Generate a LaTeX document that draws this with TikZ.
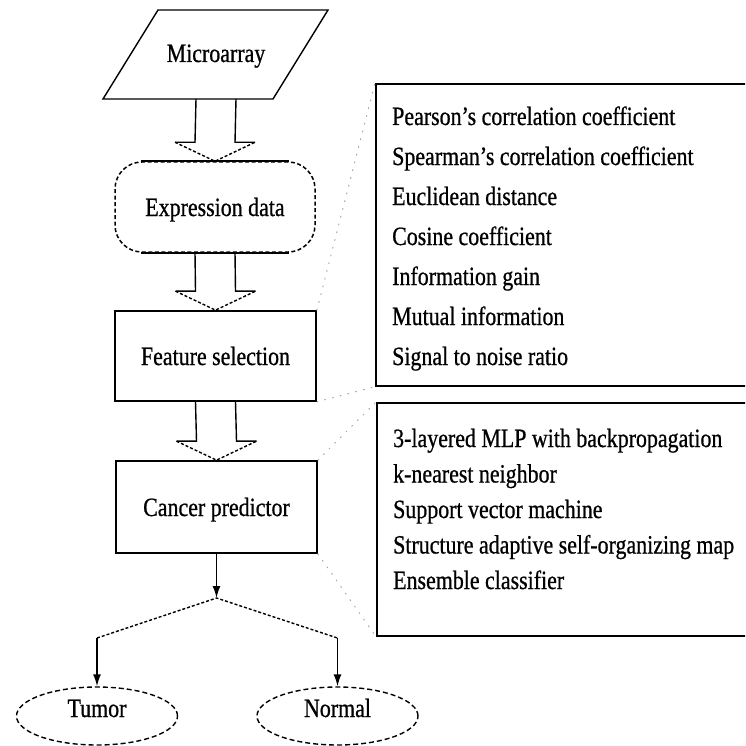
\documentclass[tikz,border=0pt]{standalone}
\usepackage{fontspec}
\setmainfont{Liberation Serif}[FakeStretch=0.83,FakeBold=0.7]
\usetikzlibrary{calc,arrows.meta,shapes.geometric}

\begin{document}
\begin{tikzpicture}[x=1pt,y=-1pt,
  every node/.style={font=\fontsize{26.4}{30}\selectfont},
  lbl/.style={inner sep=0pt, text height=20pt, text depth=2pt},
  box/.style={lbl, draw, line width=1.7pt, rectangle},
  roundbox/.style={lbl, draw, line width=1.5pt, rectangle, rounded corners=27pt,
    dash pattern=on 4pt off 2.5pt},
  leaf/.style={draw, ellipse, line width=1.4pt, inner sep=0pt,
    minimum width=161pt, minimum height=58pt, text height=20pt, text depth=18pt,
    dash pattern=on 5pt off 3pt},
  listbox/.style={draw, line width=1.7pt, rectangle, inner sep=0pt},
  item/.style={anchor=base west, inner sep=0pt},
  shaft/.style={line width=1.4pt},
  headdash/.style={line width=1.4pt, dash pattern=on 3pt off 2pt},
  flow/.style={line width=1.4pt, -{Latex[length=12pt,width=8pt]}},
  branch/.style={line width=1.4pt, dash pattern=on 3pt off 2pt},
  dotline/.style={gray!70, line width=1pt, dash pattern=on 1pt off 7pt, line cap=round}
]
\useasboundingbox (0,0) rectangle (745,746);
\clip (0,0) rectangle (745,746);
\fill[white] (0,0) rectangle (745,746);

% input parallelogram
\coordinate (mtl) at (158,10);
\coordinate (mtr) at (328,10);
\coordinate (mbr) at (273,99);
\coordinate (mbl) at (103,99);
\draw[line width=1.4pt, line join=miter] (mtl) -- (mtr) -- (mbr) -- (mbl) -- cycle;
\node[lbl] (micro) at (216,53) {Microarray};
\coordinate (mbot) at (micro.center |- mbl);

% main flow
\node[roundbox, minimum width=200pt, minimum height=90pt] (expr) at (215,207) {Expression data};
\draw[line width=1.7pt] ($(expr.north west)+(27,0)$) -- ($(expr.north east)+(-27,0)$);
\draw[line width=1.7pt] ($(expr.south west)+(27,0)$) -- ($(expr.south east)+(-27,0)$);
\node[box, minimum width=201pt, minimum height=90pt] (fs) at (215.5,356) {Feature selection};
\node[box, minimum width=201pt, minimum height=92pt] (cp) at (216.5,507) {Cancer predictor};

% hollow block arrows: solid shaft, dashed head
\foreach \a/\b in {mbot/expr.north, expr.south/fs.north, fs.south/cp.north} {
  \draw[shaft] ($(\a)+(-20,0)$) -- ($(\b)+(-20,-19)$) -- ($(\b)+(-40,-19)$);
  \draw[shaft] ($(\a)+(20,0)$) -- ($(\b)+(20,-19)$) -- ($(\b)+(40,-19)$);
  \draw[headdash] ($(\b)+(-40,-19)$) -- (\b) -- ($(\b)+(40,-19)$);
}

% outcome branch
\coordinate (split) at (216.5,598);
\coordinate (lt) at (97,638);
\coordinate (rt) at (337.5,638);
\node[leaf] (tumor) at (97,716) {Tumor};
\node[leaf] (normal) at (337.5,716) {Normal};
\draw[flow] (cp.south) -- (split);
\draw[branch] (lt) -- (split) -- (rt);
\draw[flow] (lt) -- (tumor.north);
\draw[flow] (rt) -- (normal.north);

% method lists
\node[listbox, anchor=north west, minimum width=420pt, minimum height=302pt] (fsbox) at (375,83) {};
\node[listbox, anchor=north west, minimum width=420pt, minimum height=233pt] (cpbox) at (376,402) {};
\foreach \t [count=\i] in {Pearson's correlation coefficient,
    Spearman's correlation coefficient, Euclidean distance, Cosine coefficient,
    Information gain, Mutual information, Signal to noise ratio}
  \node[item] (fsm\i) at (392,85+40*\i) {\t};
\foreach \t [count=\i] in {3-layered MLP with backpropagation, k-nearest neighbor,
    Support vector machine, Structure adaptive self-organizing map, Ensemble classifier}
  \node[item] (cpm\i) at (393,411.5+35.5*\i) {\t};

% callout guides
\draw[dotline] (fs.north east) -- (fsbox.north west);
\draw[dotline] (fs.south east) -- (fsbox.south west);
\draw[dotline] (cp.north east) -- (cpbox.north west);
\draw[dotline] (cp.south east) -- (cpbox.south west);
\end{tikzpicture}
\end{document}
